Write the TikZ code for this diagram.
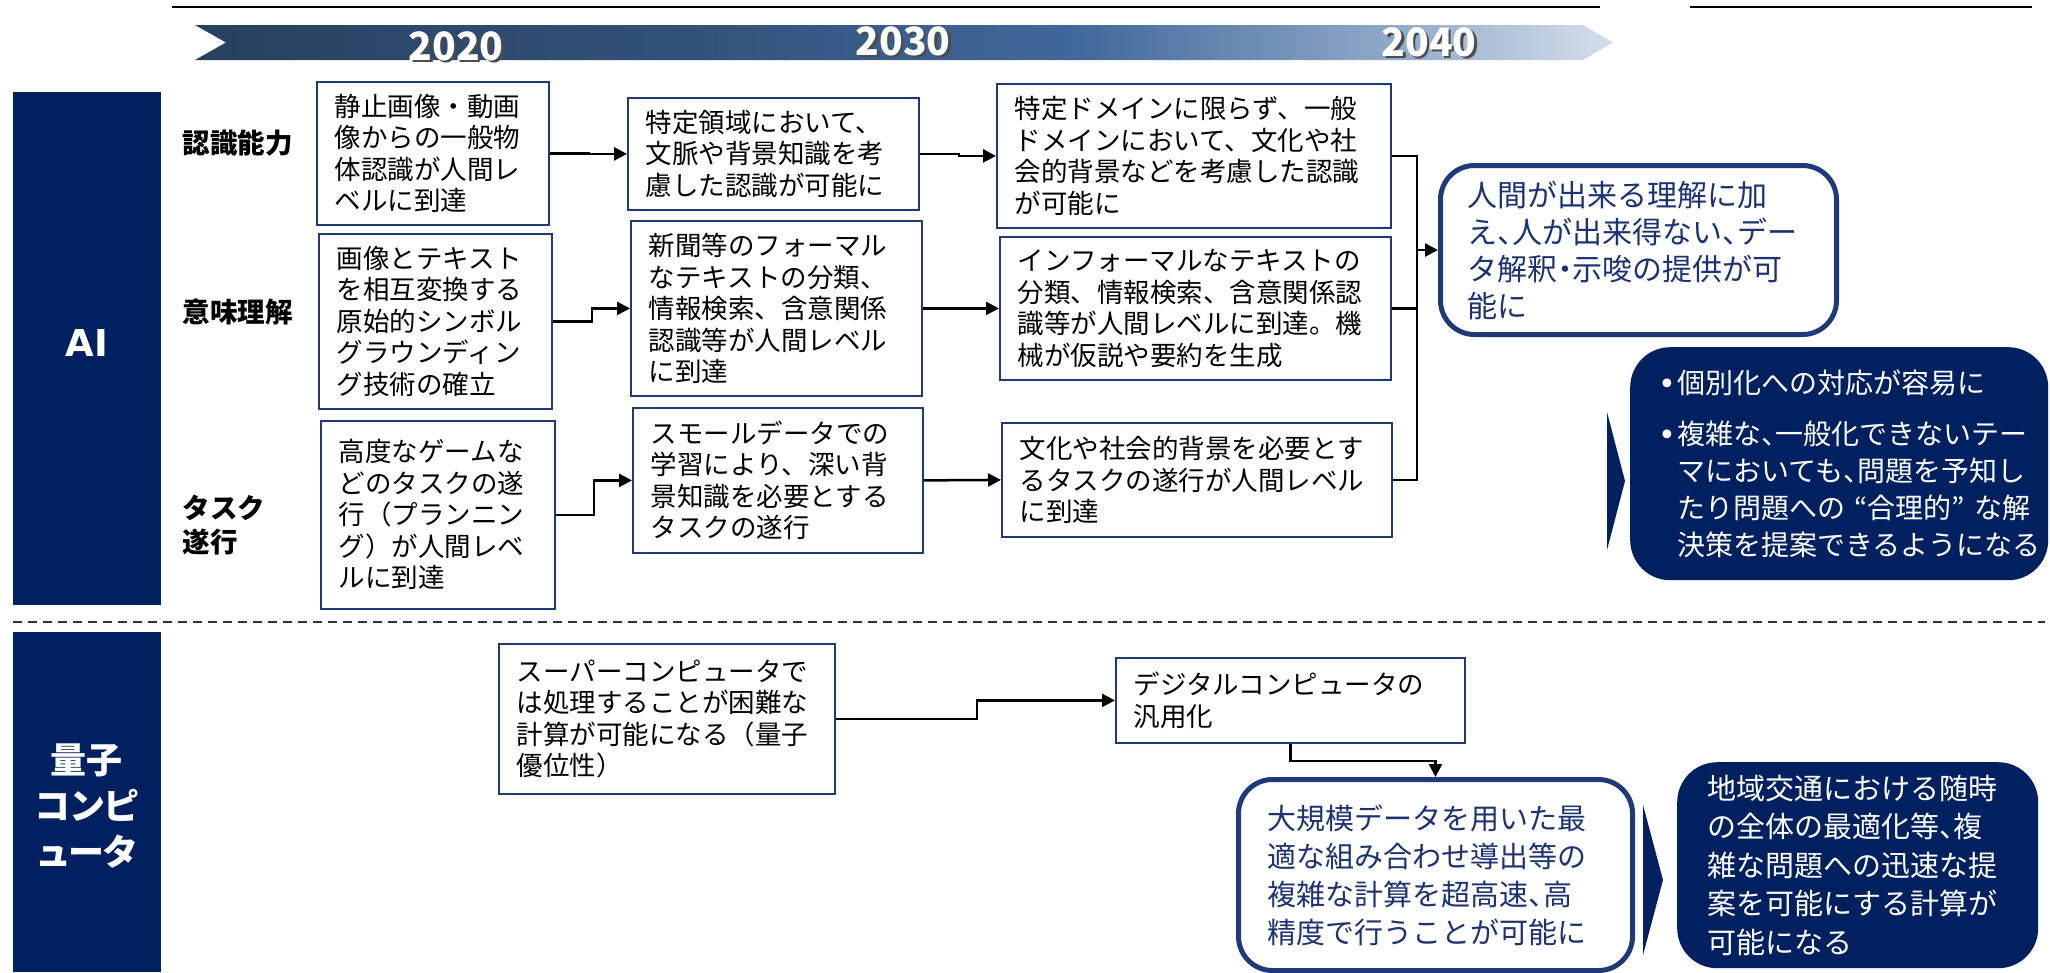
\documentclass[tikz,border=0pt]{standalone}
\usepackage{fontspec}
\setmainfont{Noto Sans CJK JP}
\newfontfamily\latinb{DejaVu Sans}
\newfontfamily\jpprop{Noto Sans CJK JP}[RawFeature=+palt]
\usetikzlibrary{arrows.meta}
\definecolor{navy}{HTML}{002060}
\definecolor{bnavy}{HTML}{1F3A78}
\definecolor{tnavy}{HTML}{1C3272}
\definecolor{bandA}{HTML}{27405F}
\definecolor{bandB}{HTML}{33527A}
\definecolor{bandC}{HTML}{41689A}
\definecolor{bandE}{HTML}{8EA8C8}
\definecolor{bandD}{HTML}{D5DFEB}
\pgfdeclarehorizontalshading{bandshade}{100bp}{color(0bp)=(bandA); color(25bp)=(bandA); color(42.5bp)=(bandB); color(56bp)=(bandC); color(67bp)=(bandE); color(75bp)=(bandD); color(100bp)=(bandD)}
\newcommand{\hc}[1]{\makebox[0.5em][l]{#1}}
\newcommand{\hcc}[1]{\makebox[0.5em][c]{#1}}
\newcommand{\bul}{\makebox[19pt][l]{\latinb\fontsize{30}{30}\selectfont\raisebox{-1pt}{•}}}
\tikzset{
  stepbox/.style={draw=bnavy, line width=1.8pt, fill=white, align=left, inner xsep=18pt, inner ysep=0pt,
    font=\fontsize{26.5}{31.5}\selectfont, anchor=north west},
  roundw/.style={draw=bnavy, line width=5pt, fill=white, rounded corners=34pt, align=left, inner xsep=27pt,
    inner ysep=0pt, text=tnavy, anchor=north west},
  roundn/.style={fill=navy, rounded corners=40pt, align=left, inner ysep=0pt, text=white, anchor=north west},
  bar/.style={fill=navy, inner sep=0pt, anchor=north west},
  barlabel/.style={text=white, align=center, font=\bfseries},
  rowlabel/.style={anchor=west, align=left, font=\bfseries\fontsize{27.5}{34}\selectfont},
  year/.style={font=\bfseries\fontsize{39}{39}\selectfont},
  conn/.style={line width=2.5pt},
  arr/.style={line width=2.5pt, -{Triangle[length=13pt,width=13pt]}},
}
\begin{document}
\begin{tikzpicture}[x=1pt,y=-1pt]
\useasboundingbox (0,0) rectangle (2050,972);
% top lines
\draw[line width=1.5pt] (172,7) -- (1600,7);
\draw[line width=1.5pt] (1690,7) -- (2032,7);
% band
\shade[shading=bandshade] (195,25) -- (1583,25) -- (1613,42.5) -- (1583,60) -- (195,60) -- (226,42.5) -- cycle;
\node[year, text=black!70] (y2020s) at (458.5,48.5) {2020};
\node[year, text=white] (y2020) at (456,46) {2020};
\node[year, text=black!70] (y2030s) at (905.5,43.5) {2030};
\node[year, text=white] (y2030) at (903,41) {2030};
\node[year, text=black!70] (y2040s) at (1431.5,44.5) {2040};
\node[year, text=white] (y2040) at (1429,42) {2040};
% side bars
\node[bar, minimum width=148pt, minimum height=513pt] (aibar) at (13,92) {};
\node[barlabel, font=\latinb\bfseries\fontsize{37}{37}\selectfont] (ailabel) at (87,343) {AI};
\node[bar, minimum width=148pt, minimum height=340pt] (qbar) at (13,632) {};
\node[barlabel, font=\jpprop\bfseries\fontsize{36}{46}\selectfont] (qlabel) at (87,806) {量子\\コンピ\\ュータ};
% dashed separator
\draw[line width=2pt, black!80, dash pattern=on 9pt off 6pt] (13,622) -- (2045,622);
% row labels
\node[rowlabel] (l1) at (179,143) {認識能力};
\node[rowlabel] (l2) at (179,312) {意味理解};
\node[rowlabel] (l3) at (179,525) {タスク\\遂行};
% column 1
\node[stepbox, text width=196pt, minimum height=143pt] (b11) at (316,81) {静止画像・動画\\像からの一般物\\体認識が人間レ\\ベルに到達};
\node[stepbox, text width=197pt, minimum height=175pt] (b21) at (318,233) {画像とテキスト\\を相互変換する\\原始的シンボル\\グラウンディン\\グ技術の確立};
\node[stepbox, text width=198pt, minimum height=188pt] (b31) at (320,420) {高度なゲームな\\どのタスクの遂\\行（プランニン\\グ）が人間レベ\\ルに到達};
% column 2
\node[stepbox, text width=255pt, minimum height=112pt] (b12) at (627,97) {特定領域において、\\文脈や背景知識を考\\慮した認識が可能に};
\node[stepbox, text width=255pt, minimum height=175pt] (b22) at (630,220) {新聞等のフォーマル\\なテキストの分類、\\情報検索、含意関係\\認識等が人間レベル\\に到達};
\node[stepbox, text width=254pt, minimum height=145pt] (b32) at (632,407) {スモールデータでの\\学習により、深い背\\景知識を必要とする\\タスクの遂行};
% column 3
\node[stepbox, text width=358pt, minimum height=144pt] (b13) at (996,83) {特定ドメインに限らず、一般\\ドメインにおいて、文化や社\\会的背景などを考慮した認識\\が可能に};
\node[stepbox, text width=355pt, minimum height=143pt] (b23) at (999,236) {インフォーマルなテキストの\\分類、情報検索、含意関係認\\識等が人間レベルに到達。機\\械が仮説や要約を生成};
\node[stepbox, text width=354pt, minimum height=114pt] (b33) at (1001,422) {文化や社会的背景を必要とす\\るタスクの遂行が人間レベル\\に到達};
% AI outcome boxes
\node[roundw, text width=342pt, minimum height=169pt, font=\fontsize{30}{37}\selectfont] (r1) at (1438,163) {人間が出来る理解に加\\え\hc{、}人が出来得ない\hc{、}デー\\タ解釈\hcc{・}示唆の提供が可\\能に};
\fill[navy] (1607,412) -- (1625,481) -- (1607,550) -- cycle;
\node[roundn, inner xsep=28pt, text width=362pt, minimum height=233pt, font=\fontsize{28}{37}\selectfont] (r2) at (1630,347) {\bul 個別化への対応が容易に\\[14pt]\bul 複雑な\hc{、}一般化できないテー\\\hspace*{19pt}マにおいても\hc{、}問題を予知し\\\hspace*{19pt}たり問題への~“合理的”~な解\\\hspace*{19pt}決策を提案できるようになる};
% quantum boxes
\node[stepbox, text width=300pt, minimum height=150pt] (s1) at (498,643) {スーパーコンピュータで\\は処理することが困難な\\計算が可能になる（量子\\優位性）};
\node[stepbox, text width=313pt, minimum height=85pt] (s2) at (1115,657) {デジタルコンピュータの\\汎用化};
\node[roundw, inner xsep=29pt, text width=336pt, minimum height=191pt, font=\fontsize{29}{38}\selectfont] (r3) at (1236,777) {大規模データを用いた最\\適な組み合わせ導出等の\\複雑な計算を超高速\hc{、}高\\精度で行うことが可能に};
\fill[navy] (1643,805) -- (1663,880) -- (1643,955) -- cycle;
\node[roundn, inner xsep=30pt, text width=301pt, minimum height=206pt, font=\fontsize{29}{38.5}\selectfont] (r4) at (1677,762) {地域交通における随時\\の全体の最適化等\hc{、}複\\雑な問題への迅速な提\\案を可能にする計算が\\可能になる};
% connectors AI
\draw[arr] (b11.east) -- ++(39,0) |- (b12.west);
\draw[arr] (b21.east) -- ++(39,0) |- (b22.west);
\draw[arr] (b31.east) -- ++(38,0) |- (b32.west);
\draw[arr] (b12.east) -- ++(39,0) |- (b13.west);
\draw[arr] (b22.east) -- (b23.west);
\draw[arr] (b32.east) -- (b33.west);
\coordinate (bus) at ([xshift=25pt]b13.east);
\draw[conn] (b13.east) -- (bus) |- (b33.east);
\draw[conn] (b23.east) -- (bus |- b23.east);
\draw[arr] (bus |- r1.west) -- (r1.west);
% connectors quantum
\draw[arr] (s1.east) -- ++(141,0) |- (s2.west);
\draw[arr] (s2.south) -- ++(0,17) -| (r3.north);
\end{tikzpicture}
\end{document}
